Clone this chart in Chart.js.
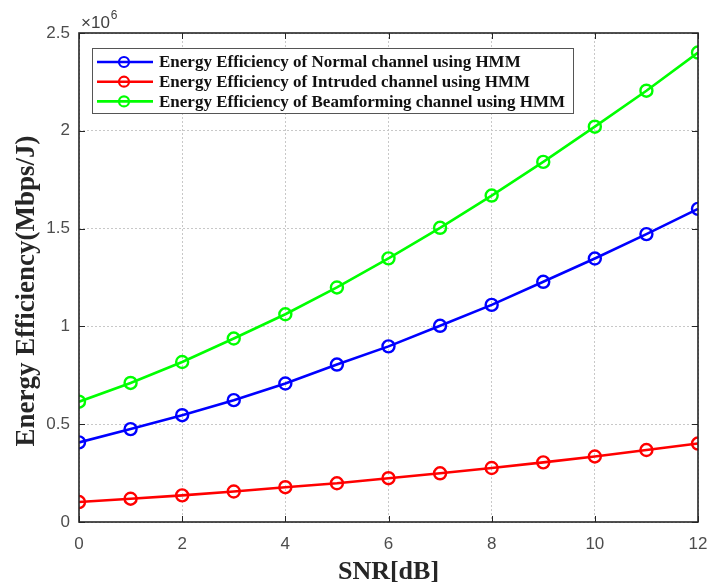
<!DOCTYPE html>
<html>
<head>
<meta charset="utf-8">
<script src="https://cdn.jsdelivr.net/npm/chart.js@4"></script>
<style>
  html, body { margin: 0; padding: 0; background: #fff; }
  #wrap { width: 713px; height: 588px; }
</style>
</head>
<body>
<div id="wrap"><canvas id="chart" width="713" height="588"></canvas></div>
<script>
// SNR values on the x axis
const snr = [0, 1, 2, 3, 4, 5, 6, 7, 8, 9, 10, 11, 12];

// energy efficiency (x 10^6 Mbps/J)
const normalEE = [0.407, 0.475, 0.546, 0.623, 0.708, 0.805, 0.898, 1.003, 1.110, 1.228, 1.347, 1.472, 1.601];
const intrudedEE = [0.102, 0.119, 0.136, 0.156, 0.178, 0.198, 0.224, 0.249, 0.276, 0.305, 0.335, 0.368, 0.401];
const beamEE = [0.615, 0.711, 0.818, 0.938, 1.062, 1.199, 1.348, 1.504, 1.669, 1.841, 2.021, 2.205, 2.400];

const seriesLabels = [
  "Energy Efficiency of Normal channel using HMM",
  "Energy Efficiency of Intruded channel using HMM",
  "Energy Efficiency of Beamforming channel using HMM",
];
const seriesColors = ["#0000ff", "#ff0000", "#00ff00"];
const seriesValues = [normalEE, intrudedEE, beamEE];

const yTitle = "Energy Efficiency(Mbps/J)";
const serif = "'Liberation Serif', 'Times New Roman', serif";

function makeDataset(i) {
  return {
    label: seriesLabels[i],
    data: snr.map((x, k) => ({ x: x, y: seriesValues[i][k] * 1e6 })),
    borderColor: seriesColors[i],
    backgroundColor: "rgba(255,255,255,0)",
    borderWidth: 2.6,
    pointRadius: 6,
    pointBorderWidth: 2.4,
    pointBackgroundColor: "rgba(255,255,255,0)",
    pointBorderColor: seriesColors[i],
    tension: 0,
  };
}

// box and inner ticks, the y title, the x10^6 note and the legend
const decorations = {
  id: "decorations",
  afterDatasetsDraw(chart) {
    const { ctx, chartArea: a } = chart;
    const xs = chart.scales.x, ys = chart.scales.y;
    ctx.save();
    ctx.strokeStyle = "#262626";
    ctx.lineWidth = 1;
    xs.ticks.forEach((t) => {
      const px = Math.round(xs.getPixelForValue(t.value)) + 0.5;
      ctx.beginPath();
      ctx.moveTo(px, a.top); ctx.lineTo(px, a.top + 6);
      ctx.moveTo(px, a.bottom); ctx.lineTo(px, a.bottom - 6);
      ctx.stroke();
    });
    ys.ticks.forEach((t) => {
      const py = Math.round(ys.getPixelForValue(t.value)) + 0.5;
      ctx.beginPath();
      ctx.moveTo(a.left, py); ctx.lineTo(a.left + 6, py);
      ctx.moveTo(a.right, py); ctx.lineTo(a.right - 6, py);
      ctx.stroke();
    });
    ctx.lineWidth = 1.6;
    ctx.strokeRect(a.left, a.top, a.right - a.left, a.bottom - a.top);

    // y title
    ctx.save();
    ctx.translate(27, 291);
    ctx.rotate(-Math.PI / 2);
    ctx.fillStyle = "#262626";
    ctx.font = "bold 27px " + serif;
    ctx.textAlign = "center";
    ctx.textBaseline = "middle";
    ctx.fillText(yTitle, 0, 0);
    ctx.restore();

    // exponent note
    ctx.fillStyle = "#404040";
    ctx.font = "17px Arial, 'Liberation Sans'";
    ctx.textBaseline = "alphabetic";
    const base = "\u00d710";
    ctx.fillText(base, a.left + 2, a.top - 5);
    const bw = ctx.measureText(base).width;
    ctx.font = "12px Arial, 'Liberation Sans'";
    ctx.fillText("6", a.left + 3 + bw, a.top - 14);

    // legend
    const lx = 92, ly = 48, lw = 481, lh = 65;
    ctx.fillStyle = "#ffffff";
    ctx.fillRect(lx, ly, lw, lh);
    ctx.strokeStyle = "#555555";
    ctx.lineWidth = 1;
    ctx.strokeRect(lx + 0.5, ly + 0.5, lw, lh);
    ctx.font = "bold 17px " + serif;
    ctx.textBaseline = "middle";
    chart.data.datasets.forEach((ds, i) => {
      const y = ly + 14 + i * 19.7;
      ctx.strokeStyle = ds.borderColor;
      ctx.lineWidth = 2.6;
      ctx.beginPath();
      ctx.moveTo(lx + 5, y);
      ctx.lineTo(lx + 61, y);
      ctx.stroke();
      ctx.lineWidth = 2.2;
      ctx.beginPath();
      ctx.arc(lx + 32, y, 5, 0, Math.PI * 2);
      ctx.stroke();
      ctx.fillStyle = "#111111";
      ctx.fillText(ds.label, lx + 67, y + 1);
    });
    ctx.restore();
  },
};

new Chart(document.getElementById("chart"), {
  type: "line",
  data: { datasets: [0, 1, 2].map(makeDataset) },
  options: {
    responsive: false,
    animation: false,
    layout: { padding: { top: 33, right: 15, left: 0, bottom: 0 } },
    plugins: { legend: { display: false }, tooltip: { enabled: false } },
    scales: {
      x: {
        type: "linear",
        min: 0,
        max: 12,
        ticks: {
          stepSize: 2,
          color: "#4d4d4d",
          font: { family: "Arial, 'Liberation Sans'", size: 17 },
          padding: 12,
        },
        grid: { color: "#c8c8c8", lineWidth: 1, drawTicks: false },
        border: { display: false, dash: [2, 2] },
        title: {
          display: true,
          text: "SNR[dB]",
          color: "#262626",
          font: { family: serif, size: 26, weight: "bold" },
          padding: { top: 4, bottom: 0 },
        },
        afterFit: (s) => {
          s.height = 66;
          s.paddingLeft = 0;
          s.paddingRight = 0;
        },
      },
      y: {
        type: "linear",
        min: 0,
        max: 2.5e6,
        ticks: {
          stepSize: 0.5e6,
          color: "#4d4d4d",
          font: { family: "Arial, 'Liberation Sans'", size: 17 },
          padding: 9,
          callback: (v) => String(v / 1e6),
        },
        grid: { color: "#c8c8c8", lineWidth: 1, drawTicks: false },
        border: { display: false, dash: [2, 2] },
        afterFit: (s) => {
          s.width = 79;
          s.paddingTop = 0;
          s.paddingBottom = 0;
        },
      },
    },
  },
  plugins: [decorations],
});
</script>
</body>
</html>
